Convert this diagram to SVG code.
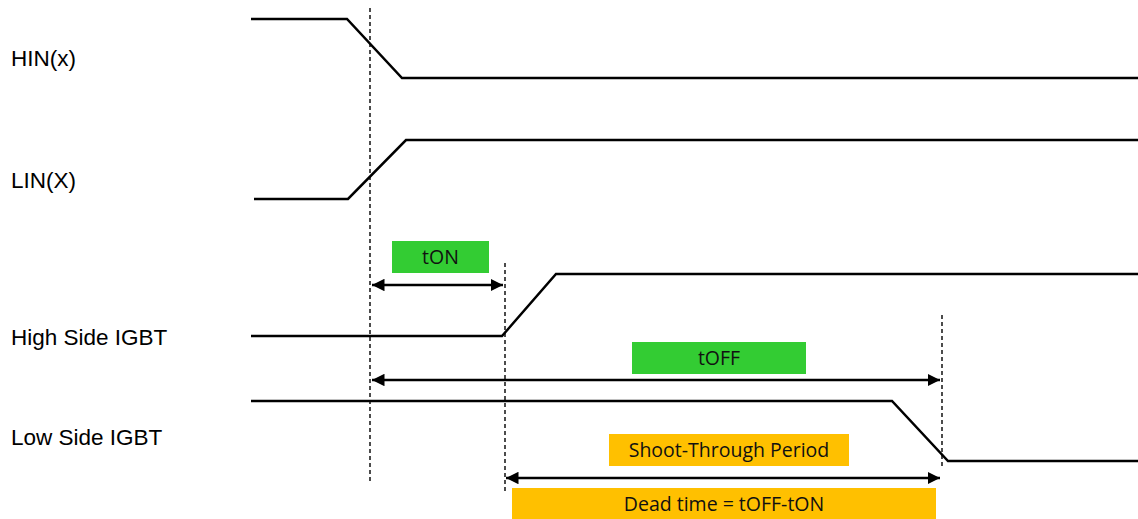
<svg xmlns="http://www.w3.org/2000/svg" width="1138" height="519" viewBox="0 0 1138 519">
<defs>
<style>
.sig{fill:none;stroke:#000;stroke-width:2.5}
.dash{fill:none;stroke:#000;stroke-width:1.4;stroke-dasharray:4 3}
.arr{fill:none;stroke:#000;stroke-width:2.5;marker-start:url(#ah);marker-end:url(#ah)}
.lbl{font-family:"Liberation Sans",Arial,sans-serif;font-size:22.5px;fill:#000}
.bt{font-family:"Open Sans","Liberation Sans",sans-serif;font-size:19.5px;fill:#111;text-anchor:middle}
.g{fill:#33cc33}
.o{fill:#ffc000}
</style>
<marker id="ah" viewBox="0 0 10 10" refX="10" refY="5" markerWidth="5" markerHeight="5" orient="auto-start-reverse" markerUnits="strokeWidth">
<path d="M0,0 L10,5 L0,10 z" fill="#000"/>
</marker>
</defs>
<rect width="1138" height="519" fill="#fff"/>
<g id="labels">
<text class="lbl" x="11" y="66">HIN(x)</text>
<text class="lbl" x="11" y="188">LIN(X)</text>
<text class="lbl" x="11" y="345">High Side IGBT</text>
<text class="lbl" x="11" y="445">Low Side IGBT</text>
</g>
<g id="signals">
<polyline id="hin" class="sig" points="251,19 347,19 402,78 1138,78"/>
<polyline id="lin" class="sig" points="254,199 348,199 406,140 1138,140"/>
<polyline id="high" class="sig" points="251,336 502,336 556,274 1138,274"/>
<polyline id="low" class="sig" points="251,401 892,401 948,461 1138,461"/>
</g>
<g id="connectors">
<line class="dash" x1="370" y1="8" x2="370" y2="481"/>
<line class="dash" x1="505" y1="263" x2="505" y2="491"/>
<line class="dash" x1="942" y1="315" x2="942" y2="468"/>
<line class="arr" x1="372" y1="285" x2="503" y2="285"/>
<line class="arr" x1="372" y1="380" x2="940" y2="380"/>
<line class="arr" x1="506" y1="478" x2="940" y2="478"/>
</g>
<g id="ton">
<rect class="g" x="392" y="241" width="97" height="32"/>
<text class="bt" x="440.5" y="264">tON</text>
</g>
<g id="toff">
<rect class="g" x="632" y="342" width="174" height="32"/>
<text class="bt" x="719" y="365">tOFF</text>
</g>
<g id="shoot">
<rect class="o" x="609" y="434" width="240" height="32"/>
<text class="bt" x="729" y="457">Shoot-Through Period</text>
</g>
<g id="dead">
<rect class="o" x="512" y="488" width="424" height="31"/>
<text class="bt" x="724" y="511">Dead time = tOFF-tON</text>
</g>
</svg>
